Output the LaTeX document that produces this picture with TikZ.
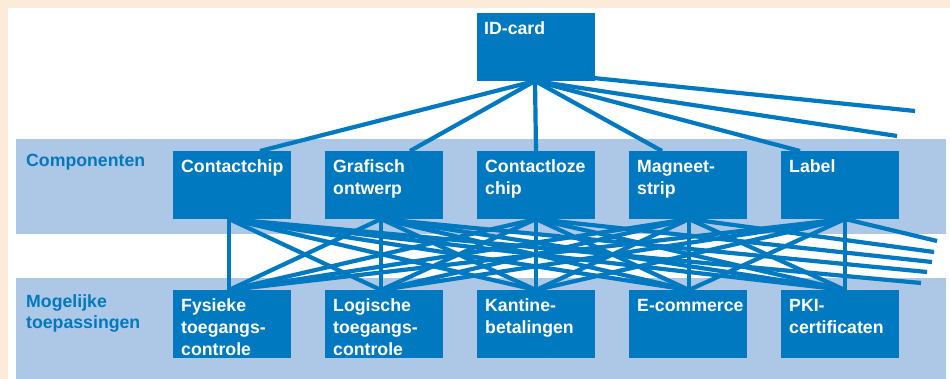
\documentclass[tikz,border=0pt]{standalone}
\usepackage{fontspec}
\setmainfont{Liberation Sans}
\definecolor{cardblue}{RGB}{0,121,193}
\definecolor{bandblue}{RGB}{173,200,230}
\definecolor{peach}{RGB}{253,235,218}
\begin{document}
\begin{tikzpicture}[x=1pt,y=-1pt,
  box/.style={fill=cardblue, draw=none, minimum width=118pt, minimum height=68pt,
    inner sep=0pt, outer sep=0pt, anchor=north west},
  boxtext/.style={text=white, font=\bfseries\fontsize{17.7}{21.8}\selectfont,
    align=left, inner sep=0pt, anchor=north west},
  rowlabel/.style={text=cardblue, font=\bfseries\fontsize{17.7}{20.8}\selectfont,
    align=left, inner sep=0pt, anchor=north west},
  link/.style={draw=cardblue, line width=4.2pt}]
  \useasboundingbox (0,0) rectangle (950,379);
  % page background, frame strips and the two bands
  \fill[white] (0,0) rectangle (950,379);
  \fill[peach] (0,0) rectangle (950,8);
  \fill[peach] (0,0) rectangle (8,379);
  \fill[bandblue] (16,139) rectangle (946,234);
  \fill[bandblue] (16,278) rectangle (946,379);

  % boxes
  \node[box] (idc) at (477,13) {};
  \node[box] (c1) at (173,151) {};
  \node[box] (c2) at (325,151) {};
  \node[box] (c3) at (477,151) {};
  \node[box] (c4) at (629,151) {};
  \node[box] (c5) at (781,151) {};
  \node[box] (a1) at (173,290) {};
  \node[box] (a2) at (325,290) {};
  \node[box] (a3) at (477,290) {};
  \node[box] (a4) at (629,290) {};
  \node[box] (a5) at (781,290) {};

  % attachment points
  \coordinate (idb) at ([xshift=58pt]idc.south west);
  \coordinate (idh) at ([xshift=58pt,yshift=9pt]idc.south west);
  \coordinate (c1t) at ([xshift=87pt]c1.north west);
  \coordinate (c2t) at ([xshift=85pt]c2.north west);
  \coordinate (c3t) at ([xshift=59pt]c3.north west);
  \coordinate (c4t) at ([xshift=33pt]c4.north west);
  \coordinate (c5t) at ([xshift=19pt]c5.north west);
  \coordinate (c1b) at ([xshift=56pt]c1.south west);
  \coordinate (c2b) at ([xshift=56pt]c2.south west);
  \coordinate (c3b) at ([xshift=59pt]c3.south west);
  \coordinate (c4b) at ([xshift=60pt]c4.south west);
  \coordinate (c5b) at ([xshift=64pt]c5.south west);
  \coordinate (a1t) at ([xshift=56pt]a1.north west);
  \coordinate (a2t) at ([xshift=56pt]a2.north west);
  \coordinate (a3t) at ([xshift=59pt]a3.north west);
  \coordinate (a4t) at ([xshift=60pt]a4.north west);
  \coordinate (a5t) at ([xshift=64pt]a5.north west);
  % loose ends running off to the right
  \coordinate (u1) at (915,111);
  \coordinate (u2) at (897,136);
  \coordinate (v1) at (921,283);
  \coordinate (v2) at (927,272);
  \coordinate (v3) at (932,262);
  \coordinate (v4) at (934,252);
  \coordinate (v5) at (937,241);

  % connectors from the card to the components
  \foreach \c in {c1t,c2t,c3t,c4t,c5t,u2}
    \draw[link] (idb) -- (\c);
  \draw[link] (idh) -- (u1);

  % connectors from every component to every application
  \foreach \c/\v in {c1b/v1,c2b/v2,c3b/v3,c4b/v4,c5b/v5} {
    \foreach \a in {a1t,a2t,a3t,a4t,a5t}
      \draw[link] (\c) -- (\a);
    \draw[link] (\c) -- (\v);
  }

  % boxes again on top so the line ends are covered
  \foreach \b in {idc,c1,c2,c3,c4,c5,a1,a2,a3,a4,a5}
    \fill[cardblue] (\b.north west) rectangle (\b.south east);

  % box texts
  \node[boxtext] (tid) at ([shift={(7,6)}]idc.north west) {\strut ID-card};
  \node[boxtext] (tc1) at ([shift={(8,6)}]c1.north west) {\strut Contactchip};
  \node[boxtext] (tc2) at ([shift={(8,6)}]c2.north west) {\strut Grafisch\\ontwerp};
  \node[boxtext] (tc3) at ([shift={(8,6)}]c3.north west) {\strut Contactloze\\chip};
  \node[boxtext] (tc4) at ([shift={(8,6)}]c4.north west) {\strut Magneet-\\strip};
  \node[boxtext] (tc5) at ([shift={(8,6)}]c5.north west) {\strut Label};
  \node[boxtext] (ta1) at ([shift={(8,6)}]a1.north west) {\strut Fysieke\\toegangs-\\controle};
  \node[boxtext] (ta2) at ([shift={(8,6)}]a2.north west) {\strut Logische\\toegangs-\\controle};
  \node[boxtext] (ta3) at ([shift={(8,6)}]a3.north west) {\strut Kantine-\\betalingen};
  \node[boxtext] (ta4) at ([shift={(8,6)}]a4.north west) {\strut E-commerce};
  \node[boxtext] (ta5) at ([shift={(8,6)}]a5.north west) {\strut PKI-\\certificaten};

  % row captions
  \node[rowlabel] (rc) at (26,152) {\strut Componenten};
  \node[rowlabel] (ra) at (26,293) {\strut Mogelijke\\toepassingen};
\end{tikzpicture}
\end{document}
